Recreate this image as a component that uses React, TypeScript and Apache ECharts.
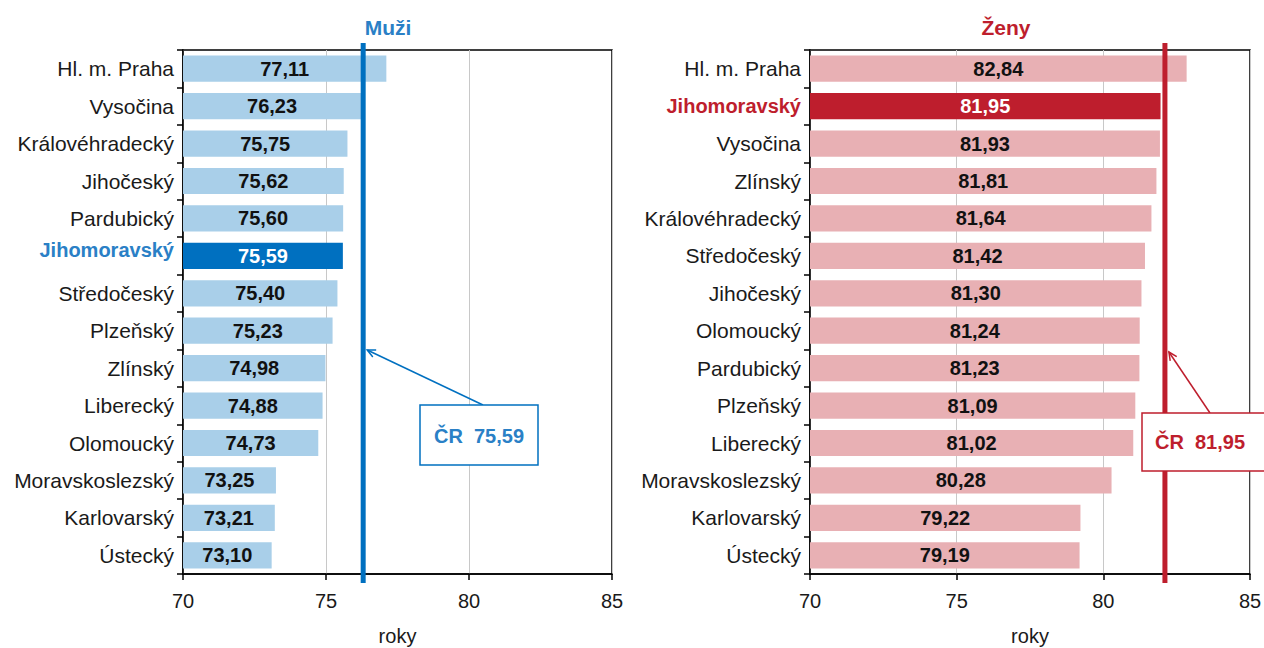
import React, { useEffect, useRef } from "react";
import * as echarts from "echarts";

const muziRegions = [
  "Hl. m. Praha", "Vysočina", "Královéhradecký", "Jihočeský", "Pardubický", "Jihomoravský",
  "Středočeský", "Plzeňský", "Zlínský", "Liberecký", "Olomoucký", "Moravskoslezský", "Karlovarský", "Ústecký",
];
const muziValues = [77.11, 76.23, 75.75, 75.62, 75.6, 75.59, 75.4, 75.23, 74.98, 74.88, 74.73, 73.25, 73.21, 73.1];

const zenyRegions = [
  "Hl. m. Praha", "Jihomoravský", "Vysočina", "Zlínský", "Královéhradecký", "Středočeský", "Jihočeský",
  "Olomoucký", "Pardubický", "Plzeňský", "Liberecký", "Moravskoslezský", "Karlovarský", "Ústecký",
];
const zenyValues = [82.84, 81.95, 81.93, 81.81, 81.64, 81.42, 81.3, 81.24, 81.23, 81.09, 81.02, 80.28, 79.22, 79.19];

const highlightRegion = "Jihomoravský";
const crMuzi = 75.59;
const crZeny = 81.95;
// positions of the reference lines as drawn in the picture
const lineMuzi = 76.3;
const lineZeny = 82.1;

const xTicks = [70, 75, 80, 85];

const FONT = "'Liberation Sans', Arial, sans-serif";
const BLUE = "#0070c0";
const BLUE_TXT = "#2a80c6";
const BLUE_LIGHT = "#a9cfe9";
const RED = "#be1e2d";
const RED_LIGHT = "#e8b0b4";
const TXT = "#1a1a1a";

const fmt = (v: number) => v.toFixed(2).replace(".", ",");

export default function App() {
  const ref = useRef<HTMLDivElement>(null);
  useEffect(() => {
    if (!ref.current) return;
    const chart = echarts.init(ref.current, undefined, { renderer: "svg" });

    const gridTop = 50;
    const gridHeight = 524;

    const xAxisCommon = (gi: number) => ({
      type: "value",
      gridIndex: gi,
      min: xTicks[0],
      max: xTicks[xTicks.length - 1],
      interval: 5,
      axisLine: { show: true, lineStyle: { color: "#000", width: 1.5 } },
      axisTick: { show: true, length: 6, lineStyle: { color: "#000", width: 1.5 } },
      axisLabel: { color: TXT, fontSize: 20, fontFamily: FONT, margin: 17 },
      splitLine: { show: true, lineStyle: { color: "#c8c8c8", width: 1 } },
      name: "roky",
      nameLocation: "middle",
      nameGap: 52,
      nameTextStyle: { color: TXT, fontSize: 20, fontFamily: FONT },
    });

    const yAxisCommon = (gi: number, cats: string[], hlColor: string, raise: number) => ({
      type: "category",
      gridIndex: gi,
      data: cats,
      inverse: true,
      axisLine: { show: true, lineStyle: { color: "#000", width: 1.5 } },
      axisTick: { show: true, length: 6, lineStyle: { color: "#000", width: 1.5 } },
      axisLabel: {
        margin: 9,
        fontSize: 21,
        fontFamily: FONT,
        color: TXT,
        formatter: (v: string) => (v === highlightRegion ? `{hl|${v}}` : v),
        rich: {
          hl: { color: hlColor, fontWeight: "bold", fontSize: 20, fontFamily: FONT, padding: [0, 0, raise, 0] },
        },
      },
      splitLine: { show: false },
    });

    const barData = (vals: number[], cats: string[], base: string, hl: string) =>
      vals.map((v, i) => {
        const isHl = cats[i] === highlightRegion;
        return {
          value: v,
          itemStyle: { color: isHl ? hl : base },
          label: { color: isHl ? "#ffffff" : "#111" },
        };
      });

    const labelCfg = {
      show: true,
      position: "inside",
      fontSize: 20,
      fontWeight: "bold",
      fontFamily: FONT,
      formatter: (p: any) => fmt(p.value),
    };

    const gridCommon = {
      top: gridTop,
      height: gridHeight,
      show: true,
      borderColor: "#000",
      borderWidth: 1.5,
      containLabel: false,
      outerBoundsMode: "none",
    };

    chart.setOption({
      animation: false,
      grid: [
        { ...gridCommon, left: 183, width: 429 },
        { ...gridCommon, left: 810, width: 440 },
      ],
      xAxis: [xAxisCommon(0), xAxisCommon(1)],
      yAxis: [yAxisCommon(0, muziRegions, BLUE_TXT, 12), yAxisCommon(1, zenyRegions, RED, 0)],
      series: [
        {
          type: "bar",
          xAxisIndex: 0,
          yAxisIndex: 0,
          data: barData(muziValues, muziRegions, BLUE_LIGHT, BLUE),
          barWidth: "70%",
          label: labelCfg,
        },
        {
          type: "bar",
          xAxisIndex: 1,
          yAxisIndex: 1,
          data: barData(zenyValues, zenyRegions, RED_LIGHT, RED),
          barWidth: "70%",
          label: labelCfg,
        },
      ],
    });

    const xm = chart.convertToPixel({ xAxisIndex: 0 }, lineMuzi) as number;
    const xz = chart.convertToPixel({ xAxisIndex: 1 }, lineZeny) as number;

    const arrowHead = (x1: number, y1: number, x2: number, y2: number, color: string) => {
      const ang = Math.atan2(y2 - y1, x2 - x1);
      const len = 9;
      const spread = 0.45;
      return {
        type: "polyline",
        shape: {
          points: [
            [x2 - len * Math.cos(ang - spread), y2 - len * Math.sin(ang - spread)],
            [x2, y2],
            [x2 - len * Math.cos(ang + spread), y2 - len * Math.sin(ang + spread)],
          ],
        },
        style: { stroke: color, lineWidth: 1.5, fill: null },
        z: 30,
      };
    };

    const mArrow = { x1: 483, y1: 405, x2: xm + 4, y2: 350 };
    const zArrow = { x1: 1210, y1: 413, x2: xz + 4, y2: 352 };

    chart.setOption({
      graphic: [
        {
          type: "text",
          x: 388,
          y: 27,
          style: { text: "Muži", fill: BLUE_TXT, font: `bold 21px ${FONT}`, textAlign: "center", textVerticalAlign: "middle" },
        },
        {
          type: "text",
          x: 1006,
          y: 27,
          style: { text: "Ženy", fill: RED, font: `bold 21px ${FONT}`, textAlign: "center", textVerticalAlign: "middle" },
        },
        {
          type: "line",
          shape: { x1: xm, y1: 43, x2: xm, y2: 583 },
          style: { stroke: BLUE, lineWidth: 5 },
          z: 20,
        },
        {
          type: "line",
          shape: { x1: xz, y1: 43, x2: xz, y2: 583 },
          style: { stroke: RED, lineWidth: 5 },
          z: 20,
        },
        {
          type: "line",
          shape: { x1: mArrow.x1, y1: mArrow.y1, x2: mArrow.x2, y2: mArrow.y2 },
          style: { stroke: BLUE, lineWidth: 1.5 },
          z: 30,
        },
        arrowHead(mArrow.x1, mArrow.y1, mArrow.x2, mArrow.y2, BLUE),
        {
          type: "rect",
          shape: { x: 420, y: 405, width: 118, height: 60 },
          style: { fill: "#fff", stroke: BLUE, lineWidth: 1.5 },
          z: 31,
        },
        {
          type: "text",
          x: 479,
          y: 436,
          style: { text: `ČR  ${fmt(crMuzi)}`, fill: BLUE_TXT, font: `bold 20px ${FONT}`, textAlign: "center", textVerticalAlign: "middle" },
          z: 32,
        },
        {
          type: "line",
          shape: { x1: zArrow.x1, y1: zArrow.y1, x2: zArrow.x2, y2: zArrow.y2 },
          style: { stroke: RED, lineWidth: 1.5 },
          z: 30,
        },
        arrowHead(zArrow.x1, zArrow.y1, zArrow.x2, zArrow.y2, RED),
        {
          type: "rect",
          shape: { x: 1142, y: 413, width: 140, height: 58 },
          style: { fill: "#fff", stroke: RED, lineWidth: 1.5 },
          z: 31,
        },
        {
          type: "text",
          x: 1155,
          y: 442,
          style: { text: `ČR  ${fmt(crZeny)}`, fill: RED, font: `bold 20px ${FONT}`, textAlign: "left", textVerticalAlign: "middle" },
          z: 32,
        },
      ],
    });

    return () => chart.dispose();
  }, []);

  return (
    <div
      ref={ref}
      style={{ position: "absolute", left: 0, top: 0, width: 1264, height: 648, background: "#fff" }}
    />
  );
}
